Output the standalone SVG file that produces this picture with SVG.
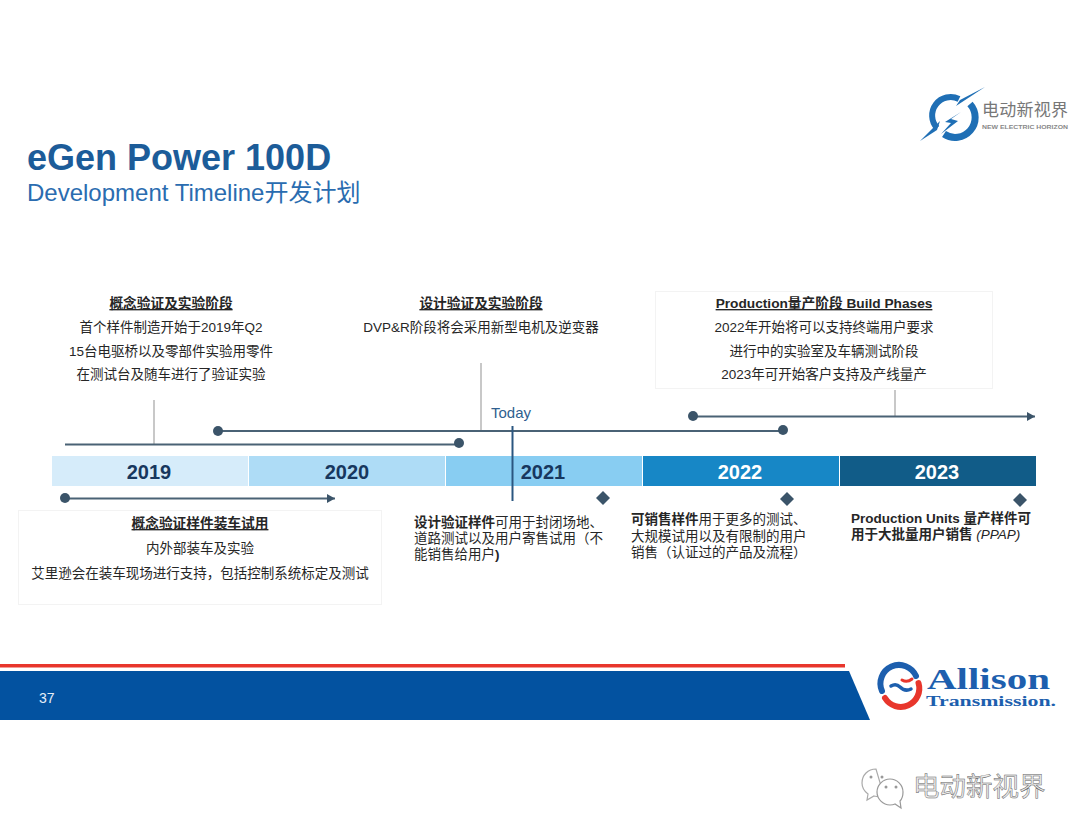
<svg xmlns="http://www.w3.org/2000/svg" width="1080" height="834" viewBox="0 0 1080 834">
<style>
text{font-family:"Liberation Sans","Noto Sans CJK SC",sans-serif;fill:#262626;font-size:13.500px}
.c{text-anchor:middle}
.h{font-weight:700;text-decoration:underline;font-size:13.700px}
.b{font-weight:700}
.yr{font-size:20px;font-weight:700;text-anchor:middle}
.ln{stroke:#4a6275;stroke-width:2;fill:none}
.gr{stroke:#c8c8c8;stroke-width:2;fill:none}
.dot{fill:#3b5469}
.box{fill:#fff;stroke:#f3f3f3;stroke-width:1}
.blue{fill:none;stroke:#1f6fb5}
.al{fill:none;stroke-linecap:round}
</style>
<defs>
<marker id="ah" markerUnits="userSpaceOnUse" markerWidth="9" markerHeight="10" refX="8" refY="5" orient="auto"><path d="M0 0.500L8 5L0 9.500Z" fill="#3b5469"/></marker>
</defs>
<rect width="1080" height="834" fill="#fff"/>
<g id="title">
<text x="27" y="170" style="font-size:36px;font-weight:700;fill:#1c5c99">eGen Power 100D</text>
<text x="27" y="201" style="font-size:24px;fill:#2a6cb0">Development Timeline开发计划</text>
</g>
<g id="logo-top">
<path class="blue" stroke-width="6" d="M959 99A18.500 18.500 0 0 0 937 128"/>
<path class="blue" stroke-width="7" d="M970 104A20 20 0 0 1 944 134"/>
<path d="M985 87L960 100L956 106Z" fill="#1f6fb5"/>
<path d="M961 112L945 122L951 123L941 134L958 121L951 119Z" fill="#1f6fb5"/>
<path d="M920 141L940 121L937 130Z" fill="#1f6fb5"/>
<text x="982" y="116" textLength="86" style="font-size:17px;fill:#777">电动新视界</text>
<text x="982" y="129" textLength="86" lengthAdjust="spacingAndGlyphs" style="font-size:6px;font-weight:700;fill:#888">NEW ELECTRIC HORIZON</text>
</g>
<g id="connectors">
<path class="gr" d="M154 400V444"/>
<path class="gr" d="M481 363V431"/>
<path class="gr" d="M895 390V416"/>
<path class="ln" d="M65 444.500H459"/>
<circle class="dot" cx="459" cy="443" r="5"/>
<path class="ln" d="M218 431H783"/>
<circle class="dot" cx="218" cy="431" r="5"/>
<circle class="dot" cx="783" cy="430" r="5"/>
<path class="ln" d="M693 416.500H1035" marker-end="url(#ah)"/>
<circle class="dot" cx="693" cy="416" r="5"/>
<path class="ln" d="M65 498.500H335" marker-end="url(#ah)"/>
<circle class="dot" cx="65" cy="498" r="5"/>
</g>
<g id="bar-2019"><rect x="52" y="456" width="196" height="30" fill="#d6ecfa"/><text class="yr" x="149" y="479" style="fill:#17375e">2019</text></g>
<g id="bar-2020"><rect x="249" y="456" width="196" height="30" fill="#aedcf6"/><text class="yr" x="347" y="479" style="fill:#17375e">2020</text></g>
<g id="bar-2021"><rect x="446" y="456" width="196" height="30" fill="#88cdf2"/><text class="yr" x="543" y="479" style="fill:#17375e">2021</text></g>
<g id="bar-2022"><rect x="643" y="456" width="196" height="30" fill="#1787c6"/><text class="yr" x="740" y="479" style="fill:#fff">2022</text></g>
<g id="bar-2023"><rect x="840" y="456" width="196" height="30" fill="#115c88"/><text class="yr" x="937" y="479" style="fill:#fff">2023</text></g>
<g id="today">
<text x="491" y="418" style="font-size:15px;fill:#2f5f8f">Today</text>
<path d="M512.500 426V501" stroke="#2b5680" stroke-width="2" fill="none"/>
</g>
<g id="milestones" fill="#3b5469">
<path d="M603 491L610 498L603 505L596 498Z"/>
<path d="M787 492L794 499L787 506L780 499Z"/>
<path d="M1020 493L1027 500L1020 507L1013 500Z"/>
</g>
<g id="phase-concept">
<text class="c h" x="171" y="308">概念验证及实验阶段</text>
<text class="c" x="171" y="332">首个样件制造开始于2019年Q2</text>
<text class="c" x="171" y="356">15台电驱桥以及零部件实验用零件</text>
<text class="c" x="171" y="379">在测试台及随车进行了验证实验</text>
</g>
<g id="phase-design">
<text class="c h" x="481" y="308">设计验证及实验阶段</text>
<text class="c" x="481" y="332">DVP&amp;R阶段将会采用新型电机及逆变器</text>
</g>
<g id="phase-production">
<rect class="box" x="655.500" y="291.500" width="337" height="97"/>
<text class="c h" x="824" y="308">Production量产阶段 Build Phases</text>
<text class="c" x="824" y="332">2022年开始将可以支持终端用户要求</text>
<text class="c" x="824" y="356">进行中的实验室及车辆测试阶段</text>
<text class="c" x="824" y="379">2023年可开始客户支持及产线量产</text>
</g>
<g id="sample-concept">
<rect class="box" x="18.500" y="510.500" width="363" height="94"/>
<text class="c h" x="200" y="528">概念验证样件装车试用</text>
<text class="c" x="200" y="553">内外部装车及实验</text>
<text class="c" x="200" y="578">艾里逊会在装车现场进行支持，包括控制系统标定及测试</text>
</g>
<g id="sample-design">
<text x="414" y="527"><tspan class="b">设计验证样件</tspan>可用于封闭场地、</text>
<text x="414" y="543">道路测试以及用户寄售试用（不</text>
<text x="414" y="559">能销售给用户<tspan class="b">)</tspan></text>
</g>
<g id="sample-sale">
<text x="631" y="524"><tspan class="b">可销售样件</tspan>用于更多的测试、</text>
<text x="631" y="541">大规模试用以及有限制的用户</text>
<text x="631" y="557">销售（认证过的产品及流程）</text>
</g>
<g id="sample-production">
<text class="b" x="851" y="523">Production Units 量产样件可</text>
<text x="851" y="539"><tspan class="b">用于大批量用户销售</tspan> <tspan font-style="italic">(PPAP)</tspan></text>
</g>
<g id="footer">
<rect x="0" y="664" width="845" height="3.500" fill="#e8362c"/>
<path d="M0 671H849L870 720H0Z" fill="#0352a0"/>
<text x="39" y="703" style="font-size:14px;fill:#e6eef8">37</text>
</g>
<g id="logo-allison" transform="translate(3 1)">
<path class="al" stroke="#1d5fae" stroke-width="6" d="M879 690A18.500 18.500 0 0 1 913 675"/>
<path class="al" stroke="#e8362c" stroke-width="6" d="M915.500 682A18.500 18.500 0 0 1 882 697"/>
<path class="al" stroke="#1d5fae" stroke-width="3.500" d="M888 685Q893 682 897 686Q902 691 908 688"/>
<path class="al" stroke="#e8362c" stroke-width="3" d="M899 679Q904 682 909 678"/>
</g>
<g id="logo-allison-name">
<text x="927" y="689" textLength="123" lengthAdjust="spacingAndGlyphs" style="font-family:'Liberation Serif',serif;font-size:29px;font-weight:700;fill:#1d5fae">Allison</text>
<text x="926" y="706" textLength="130" lengthAdjust="spacingAndGlyphs" style="font-family:'Liberation Serif',serif;font-size:14px;font-weight:700;fill:#1d5fae">Transmission.</text>
</g>
<g id="watermark">
<g transform="translate(3 6)">
<path d="M873 763C865 763 859 769 859 777C859 782 861 785 865 788L864 794L871 790C875 791 878 791 881 790Z" fill="#fff" stroke="#aaa" stroke-width="1.200"/>
<path d="M887 773C880 773 874 779 874 786C874 793 880 799 887 799C889 799 890 799 892 798L898 802L897 795C899 793 900 790 900 786C900 779 894 773 887 773Z" fill="#fff" stroke="#999" stroke-width="1.200"/>
<circle cx="868" cy="771" r="1.500" fill="#999"/>
<circle cx="879" cy="771" r="1.500" fill="#999"/>
<circle cx="883" cy="781" r="1.500" fill="#999"/>
<circle cx="893" cy="781" r="1.500" fill="#999"/>
</g>
<text x="913" y="796" style="font-size:26.500px;fill:#ececec;stroke:#666;stroke-width:0.500">电动新视界</text>
</g>
</svg>
